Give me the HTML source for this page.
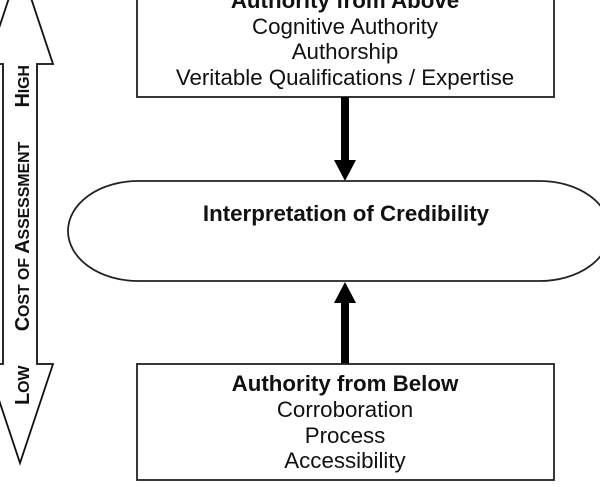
<!DOCTYPE html>
<html><head><meta charset="utf-8"><style>
html,body{margin:0;padding:0;background:#fff;}
svg{display:block;}
text{font-family:"Liberation Sans",Arial,sans-serif;fill:#111;}
</style></head><body>
<svg width="600" height="487" viewBox="0 0 600 487" xmlns="http://www.w3.org/2000/svg">
<path d="M3,64 L-13,64 L20,-35 L53,64 L37,64 L37,364 L53,364 L20,463 L-13,364 L3,364 Z" fill="#fff" stroke="#111" stroke-width="1.8"/>
<g transform="translate(29,235) rotate(-90)">
<text x="0" y="0" text-anchor="middle" font-size="16" font-weight="bold" textLength="340" lengthAdjust="spacing"><tspan font-size="20">L</tspan>OW<tspan dx="30"> </tspan><tspan font-size="20">C</tspan>OST OF <tspan font-size="20">A</tspan>SSESSMENT<tspan dx="30"> </tspan><tspan font-size="20">H</tspan>IGH</text>
</g>
<rect x="137" y="-5" width="417" height="102" fill="#fff" stroke="#222" stroke-width="1.8"/>
<text x="345" y="8" text-anchor="middle" font-size="22.3" font-weight="bold">Authority from Above</text>
<text x="345" y="34" text-anchor="middle" font-size="22.3">Cognitive Authority</text>
<text x="345" y="59" text-anchor="middle" font-size="22.3">Authorship</text>
<text x="345" y="85" text-anchor="middle" font-size="22.3">Veritable Qualifications / Expertise</text>
<rect x="341" y="97" width="8" height="64" fill="#000"/>
<path d="M334,160 L356,160 L345,181 Z" fill="#000"/>
<path d="M138,181 L540,181 A70,50 0 0 1 540,281 L138,281 A70,50 0 0 1 138,181 Z" fill="#fff" stroke="#222" stroke-width="1.8"/>
<text x="346" y="221" text-anchor="middle" font-size="22.3" font-weight="bold">Interpretation of Credibility</text>
<path d="M345,282 L334,303 L356,303 Z" fill="#000"/>
<rect x="341" y="302" width="8" height="62" fill="#000"/>
<rect x="137" y="364" width="417" height="116" fill="#fff" stroke="#222" stroke-width="1.8"/>
<text x="345" y="391" text-anchor="middle" font-size="22.3" font-weight="bold">Authority from Below</text>
<text x="345" y="417" text-anchor="middle" font-size="22.3">Corroboration</text>
<text x="345" y="443" text-anchor="middle" font-size="22.3">Process</text>
<text x="345" y="468" text-anchor="middle" font-size="22.3">Accessibility</text>
</svg>
</body></html>
